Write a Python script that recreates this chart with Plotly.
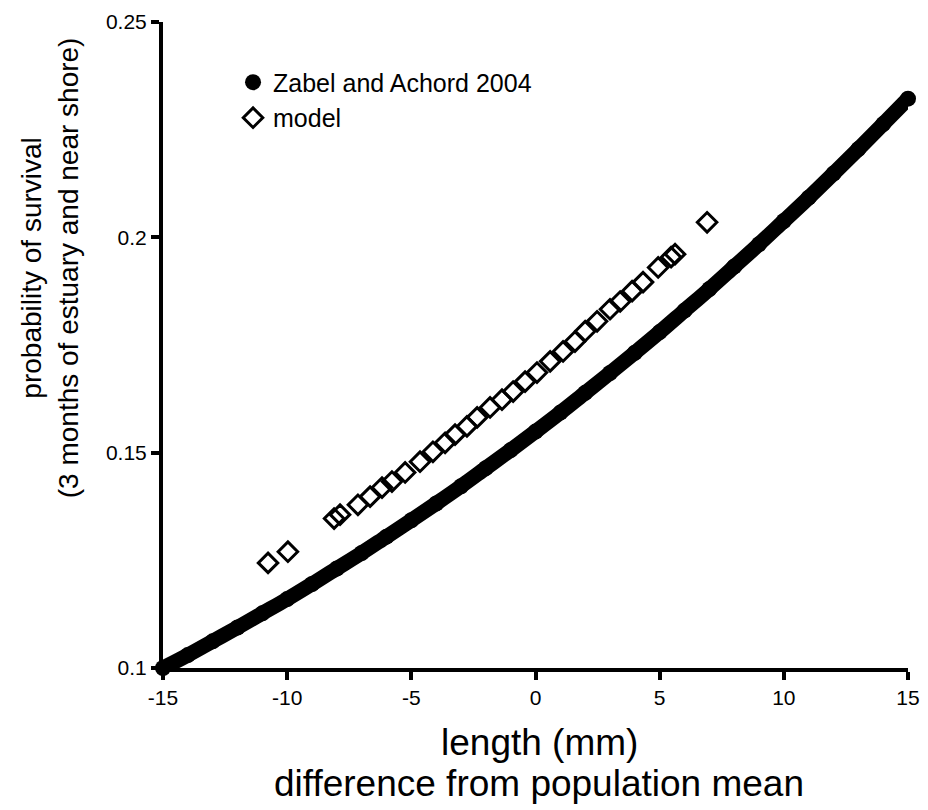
import plotly.graph_objects as go

# Zabel and Achord 2004 survival curve
zabel_x = [-15, -14, -13, -12, -11, -10, -9, -8, -7, -6, -5, -4, -3, -2, -1, 0,
           1, 2, 3, 4, 5, 6, 7, 8, 9, 10, 11, 12, 13, 14, 15]
zabel_y = [0.1000, 0.1030, 0.1062, 0.1094, 0.1127, 0.1160, 0.1195, 0.1231,
           0.1267, 0.1305, 0.1343, 0.1382, 0.1422, 0.1464, 0.1506, 0.1549,
           0.1593, 0.1639, 0.1685, 0.1732, 0.1780, 0.1830, 0.1880, 0.1932,
           0.1984, 0.2038, 0.2092, 0.2148, 0.2205, 0.2263, 0.2322]

# model points
model_x = [-10.77, -9.97, -8.11, -7.87, -7.15, -6.66, -6.18, -5.78, -5.25, -4.65,
           -4.13, -3.64, -3.24, -2.76, -2.35, -1.83, -1.35, -0.90, -0.42, 0.06,
           0.59, 1.11, 1.59, 2.00, 2.48, 3.00, 3.41, 3.89, 4.33, 4.94, 5.46,
           5.62, 6.91]
model_y = [0.1244, 0.1270, 0.1347, 0.1356, 0.1379, 0.1398, 0.1419, 0.1433,
           0.1454, 0.1479, 0.1502, 0.1523, 0.1542, 0.1561, 0.1582, 0.1605,
           0.1623, 0.1642, 0.1665, 0.1686, 0.1712, 0.1735, 0.1758, 0.1782,
           0.1805, 0.1833, 0.1851, 0.1875, 0.1896, 0.1930, 0.1954, 0.1961,
           0.2035]

x_ticks = [-15, -10, -5, 0, 5, 10, 15]
x_labels = ["-15", "-10", "-5", "0", "5", "10", "15"]
y_ticks = [0.1, 0.15, 0.2, 0.25]
y_labels = ["0.1", "0.15", "0.2", "0.25"]

font = "Liberation Sans, Arial, sans-serif"

fig = go.Figure()
# thick band under the filled circles
fig.add_trace(go.Scatter(x=zabel_x, y=zabel_y, mode="lines", showlegend=False,
                         line=dict(color="black", width=15, shape="spline"),
                         hoverinfo="skip", cliponaxis=False))
fig.add_trace(go.Scatter(x=zabel_x, y=zabel_y, mode="markers",
                         name="Zabel and Achord 2004",
                         marker=dict(symbol="circle", size=16, color="black"),
                         cliponaxis=False))
fig.add_trace(go.Scatter(x=model_x, y=model_y, mode="markers", name="model",
                         marker=dict(symbol="diamond-open", size=15, color="black",
                                     line=dict(width=3, color="black")),
                         cliponaxis=False))

fig.update_layout(
    width=928, height=810,
    plot_bgcolor="white", paper_bgcolor="white",
    margin=dict(l=155, r=28, t=14, b=150),
    font=dict(family=font, color="black", size=21),
    legend=dict(x=0.094, y=0.942, xanchor="left", yanchor="top",
                bgcolor="rgba(0,0,0,0)", font=dict(size=25),
                itemwidth=30, tracegroupgap=0),
    annotations=[
        dict(text="length (mm)", xref="paper", yref="paper",
             x=0.505, y=-0.116, xanchor="center", yanchor="middle",
             showarrow=False, font=dict(size=37)),
        dict(text="difference from population mean", xref="paper", yref="paper",
             x=0.505, y=-0.179, xanchor="center", yanchor="middle",
             showarrow=False, font=dict(size=37)),
        dict(text="probability of survival<br>(3 months of estuary and near shore)",
             xref="paper", yref="paper", x=-0.152, y=0.62, textangle=-90,
             xanchor="center", yanchor="middle", showarrow=False,
             font=dict(size=28)),
    ],
)
fig.update_xaxes(range=[-15, 15], tickvals=x_ticks, ticktext=x_labels,
                 showgrid=False, zeroline=False, automargin=False,
                 showline=True, linecolor="black", linewidth=4,
                 ticks="outside", ticklen=8, tickwidth=4, tickcolor="black",
                 tickfont=dict(size=21))
fig.update_yaxes(range=[0.1, 0.25], tickvals=y_ticks, ticktext=y_labels,
                 showgrid=False, zeroline=False, automargin=False,
                 showline=True, linecolor="black", linewidth=4,
                 ticks="outside", ticklen=8, tickwidth=4, tickcolor="black",
                 tickfont=dict(size=21))

fig.write_html("out.html")
